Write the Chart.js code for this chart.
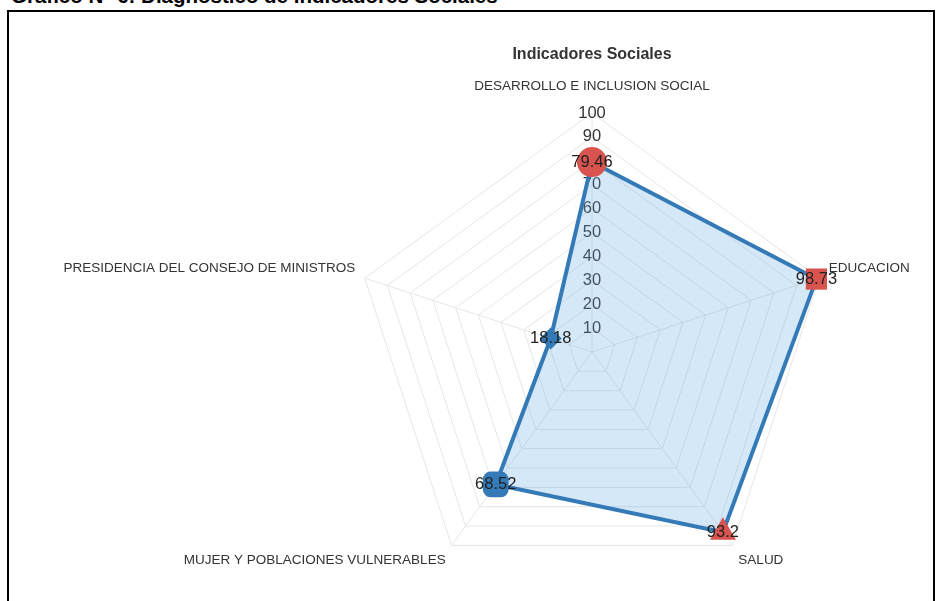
<!doctype html>
<html lang="es">
 <head>
  <meta charset="utf-8">
  <style>
body { margin: 0; width: 936px; height: 601px; overflow: hidden; background: #fff; position: relative; font-family: "Liberation Sans", Arial, sans-serif; }

/* heading is cut off at the top of the shot */
.heading {
 position: absolute; left: 11px; top: -16px;
 font-weight: bold; font-size: 20.5px; line-height: 23px; color: #000;
 white-space: nowrap;
}
.frame {
 position: absolute; left: 7px; top: 10px;
 width: 924px; height: 620px;
 border: 2px solid #000;
}
#radar { position: absolute; left: 0; top: 0; }
  </style>
  <title>Indicadores Sociales</title>
 </head>
 <body>
  <div class="heading">Gráfico N° 6: Diagnóstico de Indicadores Sociales</div>
  <div class="frame"></div>
  <canvas id="radar" width="936" height="601"></canvas>

  <script src="https://cdn.jsdelivr.net/npm/chart.js@4.4.1/dist/chart.umd.min.js"></script>
  <script>
var sectors = [
  'DESARROLLO E INCLUSION SOCIAL',
  'EDUCACION',
  'SALUD',
  'MUJER Y POBLACIONES VULNERABLES',
  'PRESIDENCIA DEL CONSEJO DE MINISTROS'
];
var scores = [79.46, 98.73, 93.2, 68.52, 18.18];
var markers = ['circle', 'rect', 'triangle', 'rectRounded', 'rectRot'];
var tickValues = [0, 10, 20, 30, 40, 50, 60, 70, 80, 90, 100];

const RED = '#d9534f';
const BLUE = '#337ab7';
const FONT = '"Liberation Sans", Arial, sans-serif';
var markerColors = scores.map(function (v, i) { return i < 3 ? RED : BLUE; });
var markerSizes = markers.map(function (m) { return m == 'rectRot' ? 11 : 15; });

// axis names drawn around the web (chart.js own ones shrink the radius too much)
const sectorLabels = {
  id: 'sectorLabels',
  afterDraw(chart) {
    const scale = chart.scales.r;
    const ctx = chart.ctx;
    ctx.save();
    ctx.font = '13.5px ' + FONT;
    ctx.fillStyle = '#333';
    sectors.forEach(function (name, i) {
      const a = scale.getIndexAngle(i);
      const sx = Math.sin(a), cy = Math.cos(a);
      const centred = Math.abs(sx) < 0.1;
      const pos = scale.getPointPosition(i, scale.drawingArea + (centred ? 20 : 10));
      ctx.textAlign = centred ? 'center' : (sx > 0 ? 'left' : 'right');
      ctx.textBaseline = cy > 0 ? 'bottom' : 'top';
      ctx.fillText(name, pos.x, pos.y);
    });
    ctx.restore();
  }
};

// value printed over each marker
const valueLabels = {
  id: 'valueLabels',
  afterDatasetsDraw(chart) {
    const ctx = chart.ctx;
    const meta = chart.getDatasetMeta(0);
    ctx.save();
    ctx.font = '16.5px ' + FONT;
    ctx.fillStyle = '#222';
    ctx.textAlign = 'center';
    ctx.textBaseline = 'middle';
    meta.data.forEach(function (pt, i) {
      ctx.fillText(String(scores[i]), pt.x, pt.y);
    });
    ctx.restore();
  }
};

const radar = new Chart(document.getElementById('radar'), {
  type: 'radar',
  data: {
    labels: sectors,
    datasets: [{
      label: 'Indicadores Sociales',
      data: scores,
      borderColor: BLUE,
      borderWidth: 4,
      backgroundColor: 'rgba(100,170,230,0.27)',
      fill: true,
      pointStyle: markers,
      pointRadius: markerSizes,
      pointHoverRadius: markerSizes,
      pointBackgroundColor: markerColors,
      pointBorderColor: markerColors,
      pointBorderWidth: 0
    }]
  },
  options: {
    responsive: false,
    animation: false,
    devicePixelRatio: 1,
    layout: {
      padding: { left: 340, right: 92, top: 0, bottom: 1 }
    },
    scales: {
      r: {
        min: 0,
        max: 100,
        afterBuildTicks: function (scale) {
          scale.ticks = tickValues.map(function (v) { return { value: v }; });
        },
        ticks: {
          stepSize: 10,
          color: '#333',
          font: { family: FONT, size: 16.5, lineHeight: 1 },
          showLabelBackdrop: false,
          backdropPadding: 0
        },
        grid: { color: '#e6e6e6', lineWidth: 1 },
        angleLines: { color: '#e6e6e6', lineWidth: 1 },
        pointLabels: { display: false }
      }
    },
    plugins: {
      legend: { display: false },
      tooltip: { enabled: false },
      title: {
        display: true,
        text: 'Indicadores Sociales',
        color: '#333',
        font: { family: FONT, size: 16, weight: 'bold', lineHeight: 1.2 },
        padding: { top: 45.4, bottom: 40.8 }
      }
    }
  },
  plugins: [sectorLabels, valueLabels]
});
  </script>
 </body>
</html>
